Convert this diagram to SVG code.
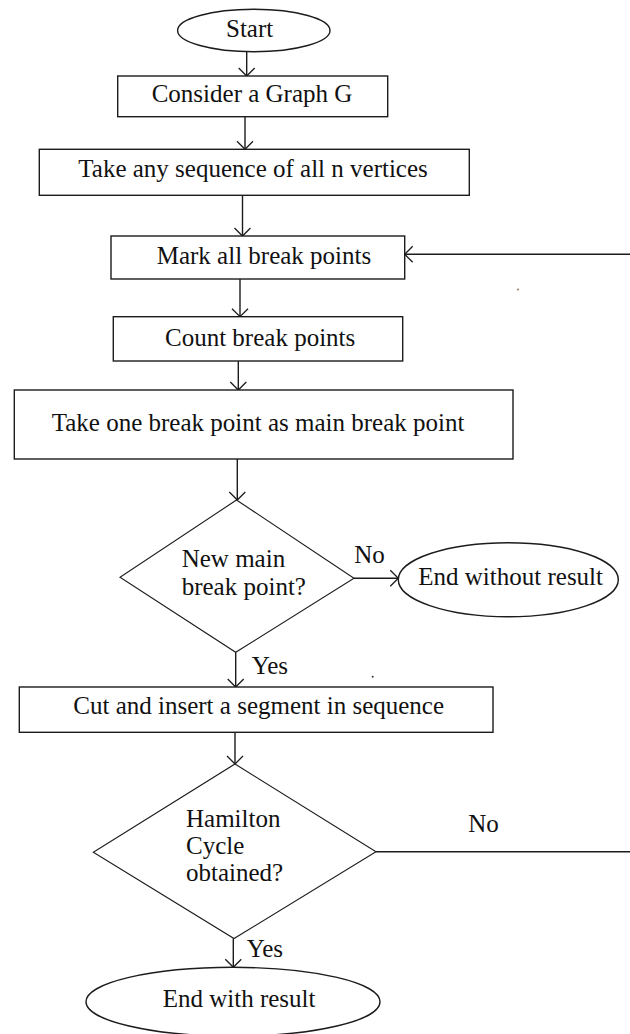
<svg xmlns="http://www.w3.org/2000/svg" width="630" height="1034" viewBox="0 0 630 1034" font-family="Liberation Serif" font-size="25">
  <style>
    .shape { fill: #ffffff; stroke: #1c1c1c; stroke-width: 1.4; }
    .dia { fill: #ffffff; stroke: #1c1c1c; stroke-width: 1.1; }
    .conn { fill: none; stroke: #1c1c1c; stroke-width: 1.4; }
    .lbl { fill: #111111; }
  </style>
  <defs>
    <marker id="arr" viewBox="-10 -10 20 20" markerUnits="userSpaceOnUse" markerWidth="20" markerHeight="20" refX="0" refY="0" orient="auto" overflow="visible">
      <path d="M-8,-8 L0,0 L-8,8" fill="none" stroke="#1c1c1c" stroke-width="1.3"/>
    </marker>
  </defs>
  <rect width="630" height="1034" fill="#ffffff"/>

  <g id="connectors">
    <line class="conn" x1="246.7" y1="51.7" x2="246.7" y2="76" marker-end="url(#arr)"/>
    <line class="conn" x1="245" y1="116.7" x2="245" y2="149.3" marker-end="url(#arr)"/>
    <line class="conn" x1="242.5" y1="195.3" x2="242.5" y2="236" marker-end="url(#arr)"/>
    <line class="conn" x1="240" y1="279" x2="240" y2="316.7" marker-end="url(#arr)"/>
    <line class="conn" x1="238.3" y1="361" x2="238.3" y2="390" marker-end="url(#arr)"/>
    <line class="conn" x1="237.3" y1="459" x2="237.3" y2="500" marker-end="url(#arr)"/>
    <line class="conn" x1="354" y1="578.3" x2="398.3" y2="578.3" marker-end="url(#arr)"/>
    <line class="conn" x1="235.7" y1="652.3" x2="235.7" y2="687" marker-end="url(#arr)"/>
    <line class="conn" x1="235" y1="732.3" x2="235" y2="764" marker-end="url(#arr)"/>
    <line class="conn" x1="233.3" y1="938.5" x2="233.3" y2="967.3" marker-end="url(#arr)"/>
    <line class="conn" x1="376" y1="851.7" x2="632" y2="851.7"/>
    <line class="conn" x1="632" y1="254.3" x2="404.7" y2="254.3" marker-end="url(#arr)"/>
    <text class="lbl" x="354.3" y="563">No</text>
    <text class="lbl" x="251.7" y="674.3">Yes</text>
    <text class="lbl" x="468.3" y="832.3">No</text>
    <text class="lbl" x="246.7" y="957.3">Yes</text>
  </g>

  <g id="start">
    <ellipse class="shape" cx="253.8" cy="30.5" rx="76.2" ry="21.2"/>
    <text class="lbl" x="226" y="36.5">Start</text>
  </g>

  <g id="consider">
    <rect class="shape" x="117.7" y="76" width="270" height="40.7"/>
    <text class="lbl" x="151.7" y="101.7">Consider a Graph G</text>
  </g>

  <g id="sequence">
    <rect class="shape" x="39.3" y="149.3" width="430" height="46"/>
    <text class="lbl" x="78.3" y="176.7">Take any sequence of all n vertices</text>
  </g>

  <g id="mark">
    <rect class="shape" x="111" y="236" width="293.7" height="43"/>
    <text class="lbl" x="156.7" y="264.3">Mark all break points</text>
  </g>

  <g id="count">
    <rect class="shape" x="113.3" y="316.7" width="289.4" height="44.3"/>
    <text class="lbl" x="165" y="345.7">Count break points</text>
  </g>

  <g id="takeone">
    <rect class="shape" x="14.3" y="390" width="498.7" height="69"/>
    <text class="lbl" x="51.7" y="430.7">Take one break point as main break point</text>
  </g>

  <g id="newmain">
    <polygon class="dia" points="236.5,500 354,578.3 235.7,652.3 120,577.3"/>
    <text class="lbl" x="181.7" y="567.3">New main</text>
    <text class="lbl" x="181.7" y="595">break point?</text>
  </g>

  <g id="endwithout">
    <ellipse class="shape" cx="508.3" cy="579.7" rx="110" ry="37"/>
    <text class="lbl" x="418.3" y="585">End without result</text>
  </g>

  <g id="cut">
    <rect class="shape" x="19.3" y="687" width="473.7" height="45.3"/>
    <text class="lbl" x="73.3" y="714.3">Cut and insert a segment in sequence</text>
  </g>

  <g id="hamilton">
    <polygon class="dia" points="235,764 376,851.7 234,938.5 93.3,852.3"/>
    <text class="lbl" x="186" y="826.7">Hamilton</text>
    <text class="lbl" x="186" y="854">Cycle</text>
    <text class="lbl" x="186" y="881">obtained?</text>
  </g>

  <g id="endwith">
    <ellipse class="shape" cx="233" cy="1001.7" rx="147" ry="34.4"/>
    <text class="lbl" x="162.7" y="1007.3">End with result</text>
  </g>

  <circle cx="518" cy="289.5" r="0.9" fill="#8a6a50"/>
  <circle cx="372.7" cy="676.7" r="1" fill="#333333"/>
</svg>
